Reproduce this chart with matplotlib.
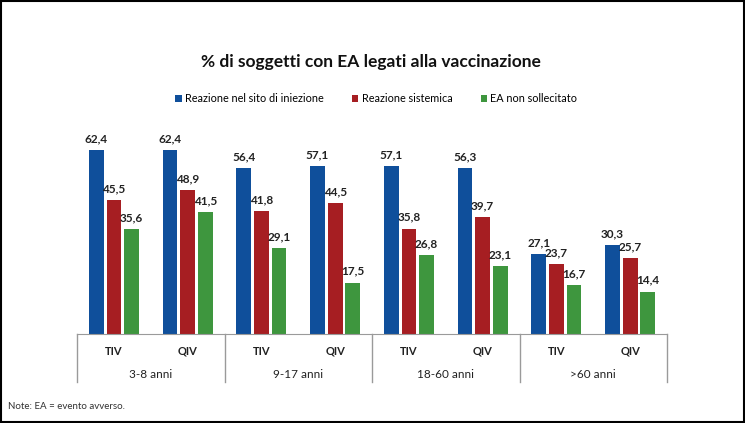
import matplotlib.pyplot as plt
import numpy as np
from matplotlib.patches import Rectangle

# Dati
vaccini = ['TIV', 'QIV', 'TIV', 'QIV', 'TIV', 'QIV', 'TIV', 'QIV']
fasce_eta = ['3-8 anni', '9-17 anni', '18-60 anni', '>60 anni']
sito_iniezione = [62.4, 62.4, 56.4, 57.1, 57.1, 56.3, 27.1, 30.3]
sistemica = [45.5, 48.9, 41.8, 44.5, 35.8, 39.7, 23.7, 25.7]
non_sollecitato = [35.6, 41.5, 29.1, 17.5, 26.8, 23.1, 16.7, 14.4]
serie = ['Reazione nel sito di iniezione', 'Reazione sistemica', 'EA non sollecitato']
colori = ['#0F4F9B', '#A61E22', '#3E963E']

plt.rcParams['font.family'] = ['Lato', 'DejaVu Sans']

fig = plt.figure(figsize=(7.45, 4.23), dpi=100)
ax = fig.add_axes([77 / 745, 1 - 334 / 423, 590 / 745, 206 / 423])

x = np.arange(len(vaccini))
passo = 0.24
larghezza = 0.2
for i, (valori, nome, col) in enumerate(zip([sito_iniezione, sistemica, non_sollecitato], serie, colori)):
    pos = x + (i - 1) * passo
    ax.bar(pos, valori, width=larghezza, color=col, label=nome)
    for px, v in zip(pos, valori):
        ax.text(px, v + 2.0, f'{v:.1f}'.replace('.', ','), ha='center', va='bottom',
                fontsize=8.5, fontweight='bold', color='#222222')

ax.set_xlim(-0.5, len(vaccini) - 0.5)
ax.set_ylim(0, 70)
ax.set_yticks([])
ax.set_xticks([])
for s in ['top', 'right', 'left']:
    ax.spines[s].set_visible(False)
ax.spines['bottom'].set_color('#9a9a9a')

# etichette categorie e separatori
for px, lab in zip(x, vaccini):
    ax.text(px, -5.8, lab, ha='center', va='center', fontsize=8, fontweight='bold', color='#222222')
for g, lab in enumerate(fasce_eta):
    ax.text(2 * g + 0.5, -13.7, lab, ha='center', va='center', fontsize=8.5, color='#222222')
for sep in np.arange(-0.5, len(vaccini), 2):
    ax.plot([sep, sep], [0, -16.4], color='#9a9a9a', lw=1, clip_on=False)

# titolo e legenda
fig.text(0.498, 1 - 62 / 423, '% di soggetti con EA legati alla vaccinazione',
         ha='center', va='center', fontsize=12.5, fontweight='bold', color='#111111')
fig.legend(loc='center', bbox_to_anchor=(0.505, 1 - 99 / 423), ncol=3, frameon=False,
           fontsize=7.8, handlelength=0.6, handleheight=0.6, handletextpad=0.3, columnspacing=2.6)

fig.text(8 / 745, 1 - 406 / 423, 'Note: EA = evento avverso.', ha='left', va='center',
         fontsize=7, color='#333333')

# cornice
fig.patches.append(Rectangle((0.001, 0.002), 0.997, 0.995, transform=fig.transFigure,
                             fill=False, edgecolor='black', lw=1.5))

fig.savefig('out.png', dpi=100)
